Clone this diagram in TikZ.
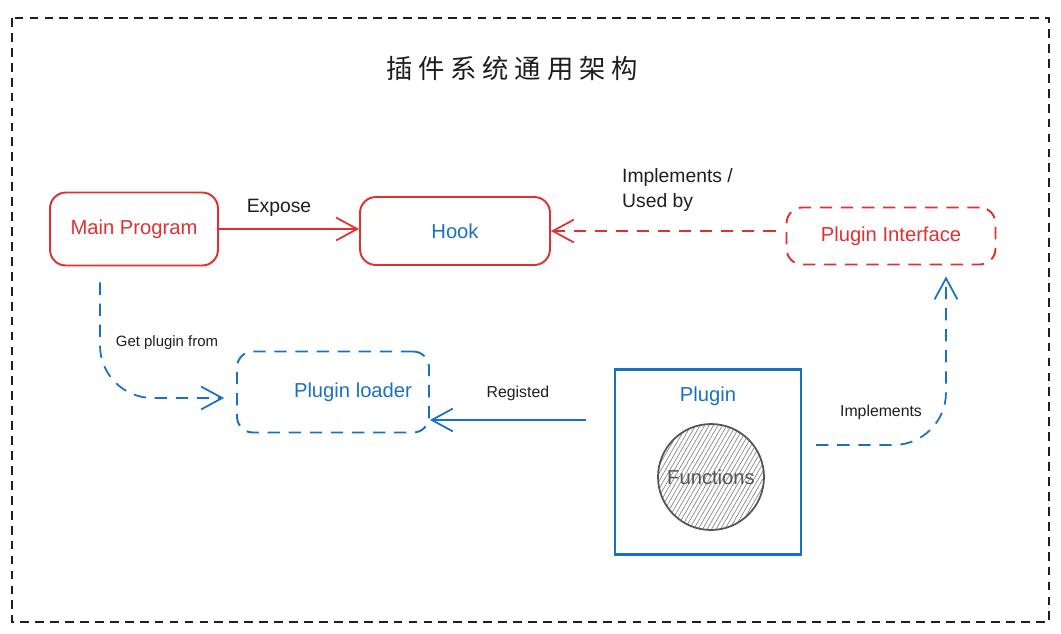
\documentclass[tikz,border=0pt]{standalone}
\usepackage{fontspec}
\setmainfont{Liberation Sans}
\newfontfamily\cjkfont[LetterSpace=22]{Noto Sans CJK SC}
\usetikzlibrary{arrows.meta, positioning, calc, patterns.meta}
\definecolor{SketchRed}{RGB}{224, 49, 49}
\definecolor{SketchBlue}{RGB}{25, 113, 194}
\definecolor{SketchInk}{RGB}{30, 30, 30}
\definecolor{SketchGray}{RGB}{85, 85, 85}
\newcommand{\sketchtip}{Straight Barb[length=12pt, width=13pt, line width=1pt]}

\begin{document}
\begin{tikzpicture}[x=0.02cm, y=-0.02cm,
    redbox/.style={draw=SketchRed, line width=1.1pt, rounded corners=9pt, inner sep=0pt},
    bluebox/.style={draw=SketchBlue, line width=1.1pt, rounded corners=9pt, inner sep=0pt},
    sketchdash/.style={dash pattern=on 7pt off 5pt},
    link/.style={line width=1pt, -{\sketchtip}},
    nodetext/.style={font=\fontsize{11.5}{13}\selectfont},
    smalltext/.style={font=\fontsize{8.5}{10}\selectfont, text=SketchInk},
    edgetext/.style={font=\fontsize{11}{14}\selectfont, text=SketchInk}]
    \useasboundingbox (0,0) rectangle (1061,633);

    % Frame
    \draw[SketchInk, line width=1pt, dash pattern=on 5pt off 3.5pt] (12,18) rectangle (1049,622);

    % Title
    \node[font=\fontsize{15}{17}\selectfont\cjkfont, text=SketchInk] (title) at (512,68) {插件系统通用架构};

    % Main program
    \node[redbox, nodetext, text=SketchRed, minimum width=3.36cm, minimum height=1.46cm] (mainprog) at (134,229) {Main Program};

    % Hook
    \node[redbox, nodetext, text=SketchBlue, minimum width=3.8cm, minimum height=1.36cm] (hook) at (455,231) {Hook};

    % Plugin interface
    \node[redbox, sketchdash, nodetext, text=SketchRed, minimum width=4.18cm, minimum height=1.14cm] (iface) at (891,236) {Plugin Interface};

    % Plugin loader
    \node[bluebox, sketchdash, nodetext, text=SketchBlue, minimum width=3.84cm, minimum height=1.62cm] (loader) at (333,392) {\hspace{0.8cm}Plugin loader};

    % Plugin
    \node[draw=SketchBlue, line width=1.3pt, minimum width=3.72cm, minimum height=3.7cm] (plugin) at (708,462) {};
    \node[nodetext, text=SketchBlue, below=0.25cm of plugin.north] (pluginlabel) {Plugin};
    \node[circle, draw=SketchGray, line width=1pt, minimum size=2.12cm,
          pattern={Lines[angle=60, distance=2.2pt, line width=0.4pt]}, pattern color=SketchGray!70,
          nodetext, text=SketchGray] (functions) at ($(plugin.center)+(3,15)$) {Functions};

    % Connectors
    \draw[link, SketchRed] (mainprog.east) -- (mainprog.east -| hook.west)
        node[edgetext, midway, above=3pt, xshift=-0.2cm] (exposelabel) {Expose};
    \draw[link, sketchdash, SketchRed, shorten <=0.2cm] (iface.west |- hook.east) -- (hook.east);
    \node[edgetext, align=left, anchor=west] (implabel) at (616,190) {Implements /\\Used by};

    \coordinate (getstart) at ($(mainprog.south)+(-34,16)$);
    \draw[link, sketchdash, SketchBlue, rounded corners=30pt, shorten >=0.24cm] (getstart) |- ($(loader.west)+(0,6)$);
    \node[smalltext] (getlabel) at (167,343) {Get plugin from};

    \coordinate (regstart) at ($(plugin.west)+(-28,-42)$);
    \draw[link, SketchBlue] (regstart) -- (regstart -| loader.east)
        node[edgetext, font=\fontsize{9}{11}\selectfont, midway, above=7pt, xshift=0.2cm] (reglabel) {Registed};

    \coordinate (implstart) at ($(plugin.east)+(14,-17)$);
    \draw[link, sketchdash, SketchBlue, rounded corners=30pt, shorten >=0.22cm] (implstart) -| ($(iface.south)+(55,0)$);
    \node[smalltext, font=\fontsize{9}{11}\selectfont] (impllabel) at (881,412) {Implements};
\end{tikzpicture}
\end{document}
